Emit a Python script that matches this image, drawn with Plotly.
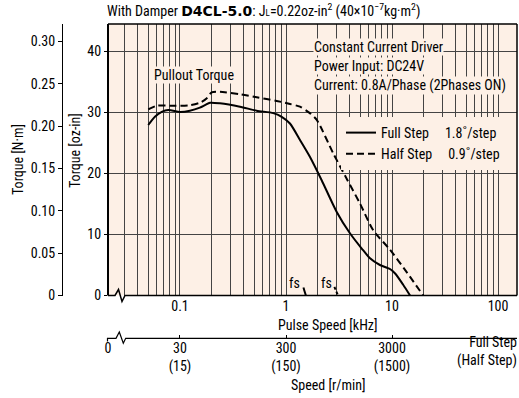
import plotly.graph_objects as go
import math

# ---------------- data ----------------
full_f = [0.0502, 0.058, 0.0673, 0.0776, 0.1, 0.124, 0.154, 0.172, 0.192, 0.238, 0.368, 0.529,
          0.759, 0.911, 1.09, 1.355, 1.68, 2.17, 3.01, 4.01, 5.18, 6.2, 7.69, 9.65, 10.7, 12.7, 14.8]
full_T = [27.95, 29.3, 30.1, 30.4, 30.1, 30.3, 30.8, 31.2, 31.6, 31.5, 30.95, 30.3,
          29.9, 29.3, 28.2, 25.5, 22.75, 18.9, 13.7, 10.2, 7.7, 6.1, 5.0, 4.3, 3.6, 1.8, 0.0]

half_f = [0.0502, 0.0606, 0.0868, 0.124, 0.154, 0.178, 0.199, 0.238, 0.368, 0.529, 0.817, 1.09,
          1.355, 1.68, 1.95, 2.79, 3.8, 4.98, 6.65, 9.58, 13.8, 19.7]
half_T = [30.5, 31.1, 31.1, 31.2, 31.6, 32.3, 33.3, 33.4, 33.0, 32.5, 31.9, 31.4,
          30.95, 29.9, 28.8, 23.3, 18.9, 15.1, 10.7, 7.5, 3.8, 0.0]

fs_full_f = [1.46, 1.54]
fs_full_T = [1.3, 0.0]
fs_half_f = [2.86, 3.1]
fs_half_T = [1.4, 0.0]

pulse_ticks = [0.1, 1, 10, 100]
pulse_labels = ["0.1", "1", "10", "100"]
speed_labels = ["0", "30<br>(15)", "300<br>(150)", "3000<br>(1500)"]
ozin_ticks = [0, 10, 20, 30, 40]
nm_ticks = [0, 0.05, 0.10, 0.15, 0.20, 0.25, 0.30]
nm_labels = ["0", "0.05", "0.10", "0.15", "0.20", "0.25", "0.30"]

# ---------------- geometry ----------------
W, H = 519, 398
ML, MR, MT, MB = 40, 2, 24, 20
PW, PH = W - ML - MR, H - MT - MB
PLOT_L, PLOT_R, PLOT_T, PLOT_B = 108, 517, 24, 295.5

def px(x):
    return (x - ML) / PW

def py(y):
    return (H - MB - y) / PH

x_lo = -1.679
x_hi = 2.179
oz_max = (PLOT_B - PLOT_T) / 6.1
nm_max = 0.30 * (PLOT_B - PLOT_T) / 254.0

minor_x = []
for dec in [0.01, 0.1, 1, 10]:
    for k in range(2, 10):
        v = k * dec
        if x_lo < math.log10(v) < x_hi:
            minor_x.append(v)

BG = "#fdf0e6"
GRID = "#444444"
FONT = "Liberation Sans Narrow, Arial Narrow, Roboto Condensed, sans-serif"

fig = go.Figure()

fig.add_trace(go.Scatter(x=full_f, y=full_T, mode="lines", name="Full Step\u00a0\u00a0\u00a0\u00a0\u00a01.8\u02da/step",
                         line=dict(color="black", width=2, shape="spline", smoothing=0.7)))
fig.add_trace(go.Scatter(x=half_f, y=half_T, mode="lines", name="Half Step\u00a0\u00a0\u00a0\u00a0\u00a00.9\u02da/step",
                         line=dict(color="black", width=2, dash="7px,4px", shape="spline", smoothing=0.7)))
fig.add_trace(go.Scatter(x=fs_full_f, y=fs_full_T, mode="lines", showlegend=False,
                         line=dict(color="black", width=2)))
fig.add_trace(go.Scatter(x=fs_half_f, y=fs_half_T, mode="lines", showlegend=False,
                         line=dict(color="black", width=2, dash="3px,2px")))

fig.update_layout(
    width=W, height=H,
    margin=dict(l=ML, r=MR, t=MT, b=MB, pad=0),
    paper_bgcolor="white", plot_bgcolor=BG,
    font=dict(family=FONT, size=14, color="black"),
    showlegend=True,
    legend=dict(x=px(341), y=py(117), xanchor="left", yanchor="top",
                bgcolor=BG, borderwidth=0, font=dict(size=14), tracegroupgap=0,
                itemwidth=30),
    xaxis=dict(type="log", range=[x_lo, x_hi], domain=[px(PLOT_L), 1],
               tickmode="array", tickvals=pulse_ticks, ticktext=pulse_labels,
               showgrid=True, gridcolor=GRID, gridwidth=1, ticks="", showline=False,
               zeroline=False,
               minor=dict(tickmode="array", tickvals=minor_x, showgrid=True,
                          gridcolor=GRID, gridwidth=1, ticks="")),
    yaxis=dict(range=[0, oz_max], domain=[py(PLOT_B), 1],
               tickmode="array", tickvals=ozin_ticks, showgrid=False,
               ticks="outside", ticklen=3, tickcolor="black", showline=False, zeroline=False,
               minor=dict(tickmode="array", tickvals=[10, 20, 30, 40], showgrid=True,
                          gridcolor=GRID, gridwidth=1, ticks="")),
    yaxis2=dict(overlaying="y", anchor="free", position=px(62), side="left",
                range=[0, nm_max], tickmode="array", tickvals=nm_ticks, ticktext=nm_labels,
                showgrid=False, zeroline=False, showline=True, linecolor="black", linewidth=1,
                ticks="outside", ticklen=4, tickcolor="black"),
    xaxis2=dict(overlaying="x", anchor="free", position=py(338), side="bottom",
                type="log", range=[x_lo, x_hi], tickmode="array",
                tickvals=[10 ** x_lo, 0.1, 1, 10], ticktext=speed_labels,
                showgrid=False, zeroline=False, showline=False,
                ticks="inside", ticklen=3, tickcolor="black"),
)

# empty trace to bind secondary axes
fig.add_trace(go.Scatter(x=[], y=[], xaxis="x2", yaxis="y2", showlegend=False))

# ---------------- borders and breaks ----------------
shapes = []
def line(x0, y0, x1, y1, w=1.5):
    shapes.append(dict(type="line", xref="paper", yref="paper",
                       x0=px(x0), y0=py(y0), x1=px(x1), y1=py(y1),
                       line=dict(color="black", width=w)))

def path(pts, w=1.2):
    d = "M " + " L ".join(f"{px(a):.5f},{py(b):.5f}" for a, b in pts)
    shapes.append(dict(type="path", xref="paper", yref="paper", path=d,
                       line=dict(color="black", width=w)))

line(PLOT_L, PLOT_T, PLOT_L, PLOT_B, 2)
line(PLOT_L, PLOT_T, PLOT_R, PLOT_T, 1.5)
line(PLOT_R, PLOT_T, PLOT_R, PLOT_B, 1.5)
path([(PLOT_L, PLOT_B), (115, PLOT_B), (118.5, 289.5), (122, 301.5), (125, PLOT_B), (PLOT_R, PLOT_B)], 1.5)
path([(107.5, 341.5), (107.5, 338.3), (116, 338.3), (119.3, 332), (123.3, 343.3), (125.7, 338.3), (PLOT_R, 338.3)], 1.2)
fig.update_layout(shapes=shapes)

# ---------------- annotations ----------------
ann = []
def text(x, y, s, xanchor="center", angle=0, bg=None, size=14):
    d = dict(x=px(x), y=py(y), xref="paper", yref="paper", text=s, showarrow=False,
             xanchor=xanchor, yanchor="middle", textangle=angle, font=dict(size=size),
             borderpad=0)
    if bg:
        d["bgcolor"] = bg
    ann.append(d)

title = ("With Damper <span style=\"font-family:'DejaVu Sans'\"><b>D4CL-5.0</b></span>: "
         "J<span style=\"font-size:9px\">L</span>=0.22oz-in<sup>2</sup> "
         "(40\u00d710<sup>\u22127</sup>kg\u00b7m<sup>2</sup>)")
text(106, 10, title, xanchor="left")
text(18, 160, "Torque [N\u00b7m]", angle=-90)
text(75, 151, "Torque [oz-in]", angle=-90)
text(312.5, 46.7, "Constant Current Driver", xanchor="left", bg=BG)
text(312.5, 66, "Power Input: DC24V", xanchor="left", bg=BG)
text(312.5, 85, "Current: 0.8A/Phase (2Phases ON)", xanchor="left", bg=BG)
text(194, 75, "Pullout Torque", bg=BG)
text(294, 283, "fs")
text(326.5, 283, "fs")
text(328, 325, "Pulse Speed [kHz]")
text(328, 385, "Speed [r/min]")
ann.append(dict(x=px(519), y=py(351.5), xref="paper", yref="paper",
                text="Full Step<br>(Half Step)", showarrow=False, xanchor="right",
                yanchor="middle", align="right", font=dict(size=14)))
fig.update_layout(annotations=ann)

fig.write_html("out.html", config={"displayModeBar": False},
               post_script="document.body.style.margin='0px';")
